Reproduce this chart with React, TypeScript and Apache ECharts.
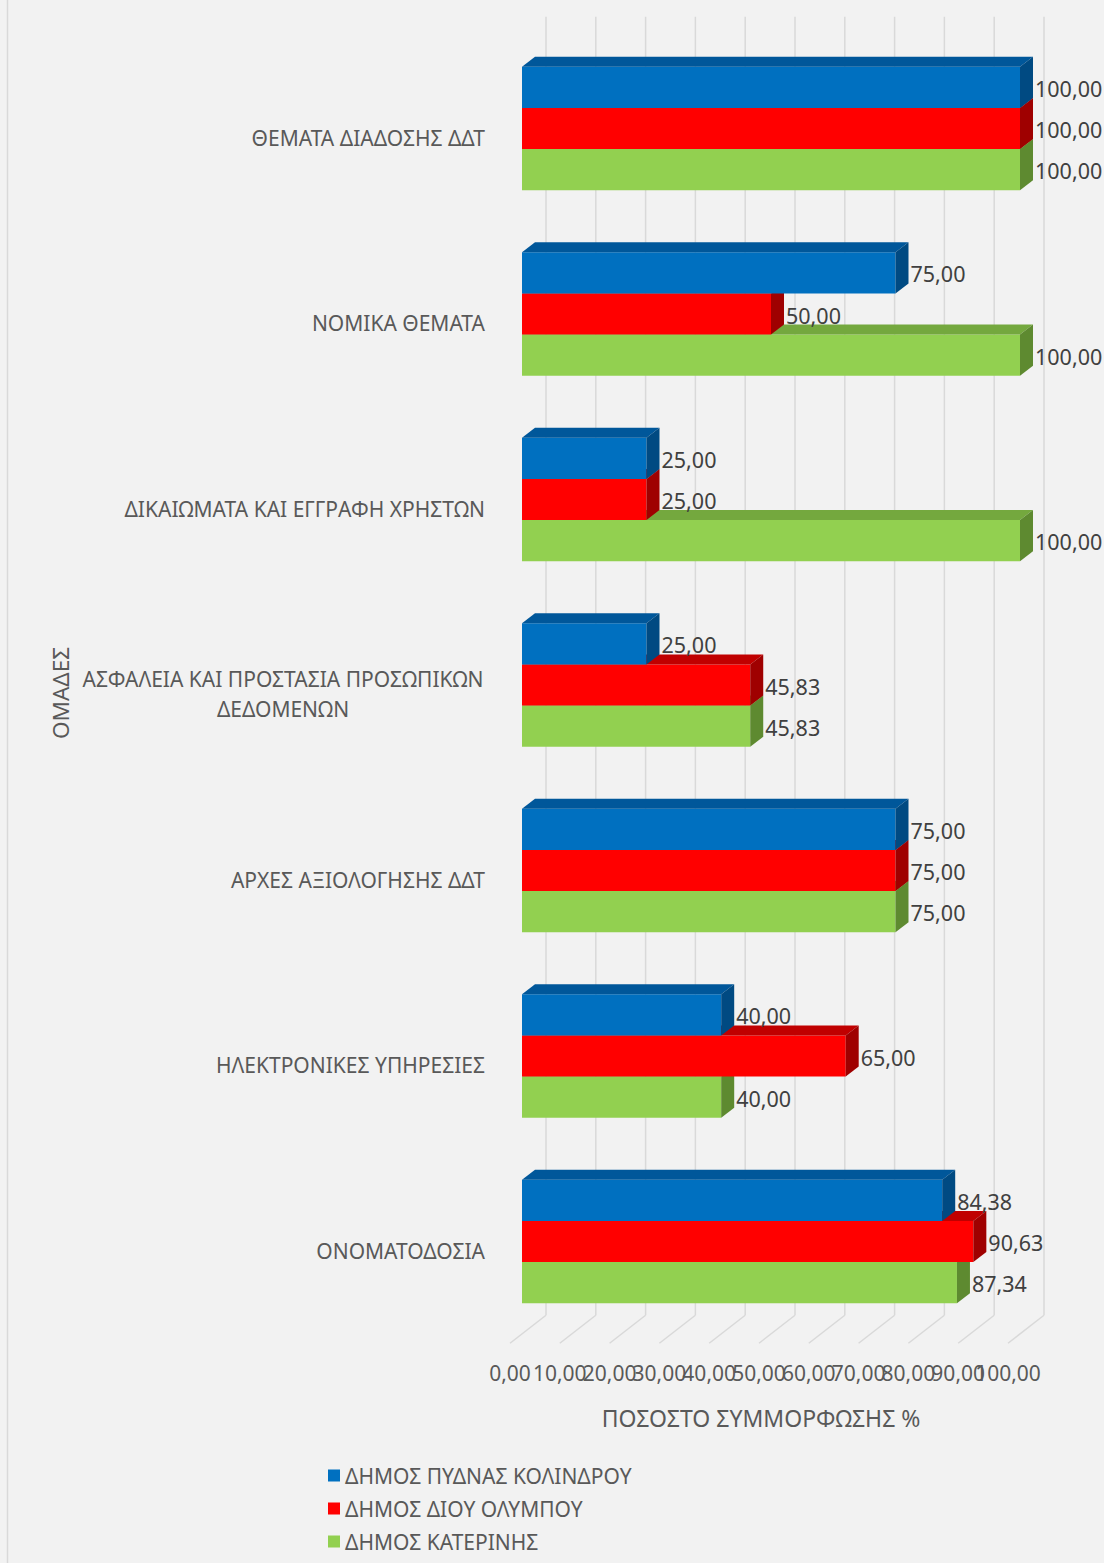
import React, { useEffect, useRef } from "react";
import * as echarts from "echarts";

// Compliance groups (top to bottom)
const CATEGORIES = [
  "ΘΕΜΑΤΑ ΔΙΑΔΟΣΗΣ ΔΔΤ",
  "ΝΟΜΙΚΑ ΘΕΜΑΤΑ",
  "ΔΙΚΑΙΩΜΑΤΑ ΚΑΙ ΕΓΓΡΑΦΗ ΧΡΗΣΤΩΝ",
  "ΑΣΦΑΛΕΙΑ ΚΑΙ ΠΡΟΣΤΑΣΙΑ ΠΡΟΣΩΠΙΚΩΝ\nΔΕΔΟΜΕΝΩΝ",
  "ΑΡΧΕΣ ΑΞΙΟΛΟΓΗΣΗΣ ΔΔΤ",
  "ΗΛΕΚΤΡΟΝΙΚΕΣ ΥΠΗΡΕΣΙΕΣ",
  "ΟΝΟΜΑΤΟΔΟΣΙΑ",
];

const SERIES_NAMES = [
  "ΔΗΜΟΣ ΠΥΔΝΑΣ ΚΟΛΙΝΔΡΟΥ",
  "ΔΗΜΟΣ ΔΙΟΥ ΟΛΥΜΠΟΥ",
  "ΔΗΜΟΣ ΚΑΤΕΡΙΝΗΣ",
];

const PYDNA_KOLINDROU = [100, 75, 25, 25, 75, 40, 84.38];
const DIOU_OLYMPOU = [100, 50, 25, 45.83, 75, 65, 90.63];
const KATERINIS = [100, 100, 100, 45.83, 75, 40, 87.34];

const X_TICKS = [0, 10, 20, 30, 40, 50, 60, 70, 80, 90, 100];

const X_TITLE = "ΠΟΣΟΣΤΟ ΣΥΜΜΟΡΦΩΣΗΣ %";
const Y_TITLE = "ΟΜΑΔΕΣ";

const FONT = '"Noto Sans", "DejaVu Sans", sans-serif';

// Face colours of the 3D bars: front, top, side
const PALETTE = [
  { front: "#0070c0", top: "#00579a", side: "#004a82" },
  { front: "#ff0000", top: "#c00000", side: "#9f0000" },
  { front: "#92d050", top: "#74a83e", side: "#5e8a30" },
];

// Oblique projection offsets (pixels)
const BAR_DX = 13;
const BAR_DY = 10;
const FLOOR_FRONT = [-12, 9];
const BACK_WALL = [24, -19];

const fmt = (v: number) => v.toFixed(2).replace(".", ",");

const measure = (text: string, size: number) => {
  const ctx = document.createElement("canvas").getContext("2d");
  if (!ctx) return text.length * size * 0.6;
  ctx.font = `${size}px ${FONT}`;
  return ctx.measureText(text).width;
};

export default function App() {
  const ref = useRef<HTMLDivElement>(null);

  useEffect(() => {
    if (!ref.current) return;
    const chart = echarts.init(ref.current, undefined, { renderer: "svg" });

    const catFont = 21;
    const seriesValues = [PYDNA_KOLINDROU, DIOU_OLYMPOU, KATERINIS];

    const barRenderer = (slot: number) => (params: any, api: any) => {
      const value = api.value(0);
      const cat = api.value(1);
      const end = api.coord([value, cat]);
      const start = api.coord([0, cat]);
      const band = api.size([0, 1])[1];
      const h = band / 4.5;
      const y0 = end[1] - 1.5 * h + slot * h;
      const x0 = start[0];
      const x1 = end[0];
      const c = PALETTE[slot];
      return {
        type: "group",
        children: [
          {
            type: "rect",
            shape: { x: x0, y: y0, width: x1 - x0, height: h },
            style: { fill: c.front },
          },
          {
            type: "polygon",
            shape: {
              points: [
                [x0, y0],
                [x1, y0],
                [x1 + BAR_DX, y0 - BAR_DY],
                [x0 + BAR_DX, y0 - BAR_DY],
              ],
            },
            style: { fill: c.top },
          },
          {
            type: "polygon",
            shape: {
              points: [
                [x1, y0],
                [x1 + BAR_DX, y0 - BAR_DY],
                [x1 + BAR_DX, y0 + h - BAR_DY],
                [x1, y0 + h],
              ],
            },
            style: { fill: c.side },
          },
        ],
      };
    };

    const barSeries = (slot: number) => ({
      name: SERIES_NAMES[slot],
      type: "custom",
      z: 3,
      itemStyle: { color: PALETTE[slot].front },
      encode: { x: 0, y: 1 },
      data: seriesValues[slot].map((v, i) => [v, i]),
      renderItem: barRenderer(slot),
    });

    const labelData: number[][] = [];
    seriesValues.forEach((vals, slot) =>
      vals.forEach((v, i) => labelData.push([v, i, slot]))
    );

    const longLine = "ΑΣΦΑΛΕΙΑ ΚΑΙ ΠΡΟΣΤΑΣΙΑ ΠΡΟΣΩΠΙΚΩΝ";
    const longWidth = Math.ceil(measure(longLine, catFont)) + 2;

    chart.setOption({
      animation: false,
      backgroundColor: "#f2f2f2",
      textStyle: { fontFamily: FONT },
      grid: {
        left: 522,
        width: 498,
        top: 35.75,
        height: 1298.5,
        containLabel: false,
      },
      legend: {
        data: SERIES_NAMES,
        orient: "vertical",
        left: 328,
        top: 1465,
        padding: 0,
        icon: "rect",
        itemWidth: 12,
        itemHeight: 12,
        itemGap: 12,
        textStyle: {
          fontFamily: FONT,
          fontSize: 21,
          lineHeight: 21,
          color: "#595959",
        },
      },
      xAxis: {
        type: "value",
        min: 0,
        max: 100,
        interval: 10,
        axisLine: { show: false },
        axisTick: { show: false },
        splitLine: { show: false },
        // Tick labels sit on the front edge of the floor; drawn in the grid series below
        axisLabel: { show: false },
        name: X_TITLE,
        nameLocation: "middle",
        nameGap: 72,
        nameTextStyle: {
          fontSize: 23,
          color: "#595959",
          fontFamily: FONT,
          padding: [0, 20, 0, 0],
        },
      },
      yAxis: {
        type: "category",
        inverse: true,
        data: CATEGORIES,
        axisLine: { show: false },
        axisTick: { show: false },
        splitLine: { show: false },
        axisLabel: {
          margin: 37,
          fontSize: catFont,
          color: "#595959",
          fontFamily: FONT,
          padding: [18, 0, 0, 0],
          lineHeight: 30,
          formatter: (val: string) => {
            if (val.indexOf("\n") >= 0) {
              return val
                .split("\n")
                .map((l) => `{c|${l}}`)
                .join("\n");
            }
            return val;
          },
          rich: {
            c: {
              width: longWidth,
              align: "center",
              fontSize: catFont,
              lineHeight: 30,
              color: "#595959",
              fontFamily: FONT,
            },
          },
        },
        name: Y_TITLE,
        nameLocation: "middle",
        nameGap: 450,
        nameRotate: 90,
        nameTextStyle: {
          fontSize: 22.5,
          color: "#595959",
          fontFamily: FONT,
          padding: [0, 16, 0, 0],
        },
      },
      graphic: [
        {
          type: "line",
          shape: { x1: 7.5, y1: 0, x2: 7.5, y2: 1563 },
          style: { stroke: "#d9d9d9", lineWidth: 1.5 },
          silent: true,
        },
      ],
      series: [
        // Back wall and floor grid lines, with the value tick labels
        {
          type: "custom",
          z: 1,
          silent: true,
          encode: { x: 0, y: 1 },
          data: X_TICKS.map((v) => [v, 0]),
          renderItem: (params: any, api: any) => {
            const cs = params.coordSys;
            const v = api.value(0);
            const x = api.coord([v, 0])[0];
            const bottom = cs.y + cs.height;
            const style = { stroke: "#d9d9d9", lineWidth: 1.5, fill: "none" };
            return {
              type: "group",
              children: [
                {
                  type: "line",
                  shape: {
                    x1: x + BACK_WALL[0],
                    y1: cs.y + BACK_WALL[1],
                    x2: x + BACK_WALL[0],
                    y2: bottom + BACK_WALL[1],
                  },
                  style,
                },
                {
                  type: "line",
                  shape: {
                    x1: x + BACK_WALL[0],
                    y1: bottom + BACK_WALL[1],
                    x2: x + FLOOR_FRONT[0],
                    y2: bottom + FLOOR_FRONT[1],
                  },
                  style,
                },
                {
                  type: "text",
                  x: x + FLOOR_FRONT[0],
                  y: bottom + FLOOR_FRONT[1] + 30,
                  style: {
                    text: fmt(v),
                    fill: "#595959",
                    fontSize: 21,
                    fontFamily: FONT,
                    align: "center",
                    verticalAlign: "middle",
                  },
                },
              ],
            };
          },
        },
        // Drawn bottom-up so each upper bar covers the top face of the one below
        barSeries(2),
        barSeries(1),
        barSeries(0),
        // Value labels
        {
          type: "custom",
          z: 10,
          silent: true,
          encode: { x: 0, y: 1 },
          data: labelData,
          renderItem: (params: any, api: any) => {
            const value = api.value(0);
            const cat = api.value(1);
            const slot = api.value(2);
            const end = api.coord([value, cat]);
            const band = api.size([0, 1])[1];
            const h = band / 4.5;
            const yc = end[1] - 1.5 * h + slot * h + h / 2 + 1;
            return {
              type: "text",
              x: end[0] + 15,
              y: yc,
              style: {
                text: fmt(value),
                fill: "#404040",
                fontSize: 21.5,
                fontFamily: FONT,
                align: "left",
                verticalAlign: "middle",
              },
            };
          },
        },
      ],
    });

    return () => chart.dispose();
  }, []);

  return (
    <div
      ref={ref}
      style={{
        position: "absolute",
        left: 0,
        top: 0,
        width: 1104,
        height: 1563,
        background: "#f2f2f2",
      }}
    />
  );
}
